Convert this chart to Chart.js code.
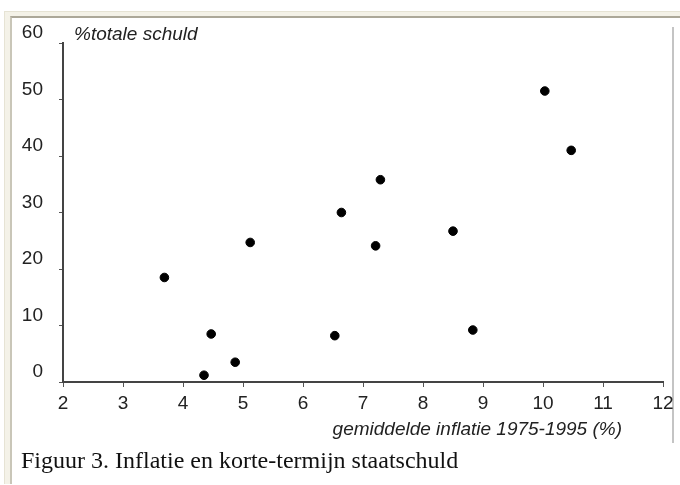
<!DOCTYPE html>
<html lang="nl">
<head>
    <meta charset="UTF-8">
    <title>Inflatie en korte-termijn staatschuld</title>
    <script src="https://cdn.jsdelivr.net/npm/chart.js"></script>
    <style>
        body {
            margin: 0;
            background-color: #ffffff;
            width: 680px;
            height: 485px;
            overflow: hidden;
            position: relative;
        }
        .frame-outer {
            position: absolute;
            left: 4px;
            top: 11px;
            width: 700px;
            height: 472px;
            background-color: #f4f2e8;
            border-top: 1px solid #e6e3d4;
            border-left: 1px solid #e6e3d4;
        }
        .frame-inner {
            position: absolute;
            left: 10px;
            top: 16px;
            width: 700px;
            height: 466px;
            background-color: #ffffff;
            border-top: 2px solid #aca899;
            border-left: 2px solid #c9c6b8;
        }
        .right-line {
            position: absolute;
            left: 672px;
            top: 27px;
            width: 2px;
            height: 416px;
            background-color: #c4c4c4;
        }
        .caption {
            position: absolute;
            left: 21px;
            top: 447px;
            font-family: "Liberation Serif", "Times New Roman", serif;
            font-size: 24px;
            color: #111;
            white-space: nowrap;
        }
        #chart {
            position: absolute;
            left: 0;
            top: 0;
        }
    </style>
</head>
<body>

<div class="frame-outer"></div>
<div class="frame-inner"></div>
<div class="right-line"></div>
<canvas id="chart" width="680" height="485"></canvas>
<div class="caption">Figuur 3. Inflatie en korte-termijn staatschuld</div>

<script>
    // gemiddelde inflatie 1975-1995 (%) vs % korte-termijn schuld
    const inflation = [3.69, 4.35, 4.47, 4.87, 5.12, 6.53, 6.64, 7.21, 7.29, 8.5, 8.83, 10.03, 10.47];
    const shortDebt = [18.5, 1.2, 8.5, 3.5, 24.7, 8.2, 30.0, 24.1, 35.8, 26.7, 9.2, 51.5, 41.0];
    const xTicks = [2, 3, 4, 5, 6, 7, 8, 9, 10, 11, 12];
    const yTicks = [0, 10, 20, 30, 40, 50, 60];

    const yTitle = '%totale schuld';
    const xTitle = 'gemiddelde inflatie 1975-1995 (%)';

    const points = inflation.map((x, i) => ({ x: x, y: shortDebt[i] }));

    const tickFont = { family: '"Liberation Sans", Arial, sans-serif', size: 19 };

    // axis titles sit horizontally, like in the original figure
    const axisTitles = {
        id: 'axisTitles',
        afterDraw(chart) {
            const ctx = chart.ctx;
            const area = chart.chartArea;
            ctx.save();
            ctx.fillStyle = '#222';
            ctx.font = 'italic 19px "Liberation Sans", Arial, sans-serif';
            ctx.textBaseline = 'alphabetic';
            ctx.textAlign = 'left';
            ctx.fillText(yTitle, area.left + 11, area.top - 3);
            ctx.textAlign = 'right';
            ctx.fillText(xTitle, area.right - 41, area.bottom + 53);
            ctx.restore();
        }
    };

    const ctx = document.getElementById('chart').getContext('2d');
    const scatterChart = new Chart(ctx, {
        type: 'scatter',
        data: {
            datasets: [{
                data: points,
                backgroundColor: '#000000',
                borderColor: '#000000',
                pointRadius: 4.3,
                pointHoverRadius: 4.3
            }]
        },
        options: {
            responsive: false,
            animation: false,
            layout: {
                padding: { left: 18, top: 43, right: 17, bottom: 43 }
            },
            plugins: {
                legend: { display: false },
                tooltip: { enabled: false }
            },
            scales: {
                x: {
                    type: 'linear',
                    min: xTicks[0],
                    max: xTicks[xTicks.length - 1],
                    afterBuildTicks: (scale) => { scale.ticks = xTicks.map(v => ({ value: v })); },
                    afterFit: (scale) => { scale.height = 60; },
                    ticks: {
                        font: tickFont,
                        color: '#222',
                        padding: 5
                    },
                    grid: {
                        drawOnChartArea: false,
                        tickLength: 5,
                        color: '#555'
                    },
                    border: { color: '#444', width: 2 }
                },
                y: {
                    min: yTicks[0],
                    max: yTicks[yTicks.length - 1],
                    afterBuildTicks: (scale) => { scale.ticks = yTicks.map(v => ({ value: v })); },
                    afterFit: (scale) => { scale.width = 45; },
                    ticks: {
                        font: tickFont,
                        color: '#222',
                        padding: 16,
                        labelOffset: -10
                    },
                    grid: {
                        drawOnChartArea: false,
                        tickLength: 4,
                        color: '#555'
                    },
                    border: { color: '#444', width: 2 }
                }
            }
        },
        plugins: [axisTitles]
    });
</script>

</body>
</html>
